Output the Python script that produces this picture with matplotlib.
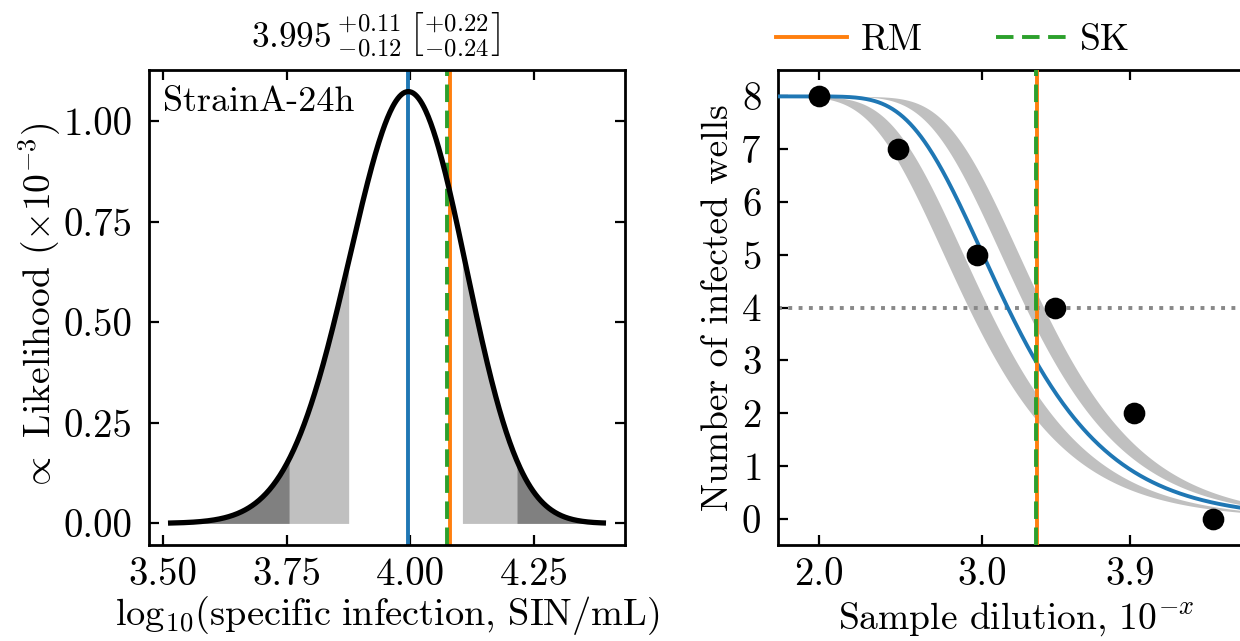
import numpy as np
import matplotlib
matplotlib.use("Agg")
import matplotlib.pyplot as plt
from math import comb

plt.rcParams.update({
    "font.family": "serif",
    "font.serif": ["cmr10"],
    "mathtext.fontset": "cm",
    "axes.formatter.use_mathtext": True,
    "axes.unicode_minus": False,
    "font.size": 13,
    "xtick.labelsize": 14,
    "ytick.labelsize": 14,
    "axes.linewidth": 1.0,
    "xtick.direction": "in",
    "ytick.direction": "in",
    "xtick.top": True,
    "ytick.right": True,
    "xtick.major.size": 3.5,
    "ytick.major.size": 3.5,
    "xtick.major.width": 0.8,
    "ytick.major.width": 0.8,
    "xtick.major.pad": 4.5,
    "ytick.major.pad": 6,
})

# Endpoint dilution assay: log10 dilution of each row and infected wells out of 8
dilution_log = np.array([2.0, 2.482, 2.964, 3.446, 3.928, 4.410])
infected_wells = np.array([8, 7, 5, 4, 2, 0])
wells_per_dilution = 8
well_volume_ml = 0.1

sample_name = "StrainA-24h"

# Maximum-likelihood estimate and its 68% / 95% intervals (log10 SIN/mL)
best_log_sin = 3.995
ci68 = (-0.12, 0.11)
ci95 = (-0.24, 0.22)

# Reed-Muench and Spearman-Karber estimates on each axis
rm_log_sin, sk_log_sin = 4.080, 4.074
rm_dilution, sk_dilution = 3.336, 3.330

likelihood_range = (3.515, 4.39)
left_xticks = [3.50, 3.75, 4.00, 4.25]
left_yticks = [0.00, 0.25, 0.50, 0.75, 1.00]
right_xticks = [2.0, 3.0, 3.9]
right_yticks = list(range(0, 9))

C_BLUE, C_ORANGE, C_GREEN = "#1f77b4", "#ff7f0e", "#2ca02c"
LIGHT, DARK = "#c0c0c0", "#808080"
DASH = (0, (4.5, 2.2))


def infected_fraction(log_sin, x):
    mean_units = 10.0 ** log_sin * well_volume_ml * 10.0 ** (-x)
    return 1.0 - np.exp(-mean_units)


def likelihood(log_sin):
    log_sin = np.atleast_1d(log_sin)[:, None]
    p = infected_fraction(log_sin, dilution_log[None, :])
    k = infected_wells[None, :]
    n = wells_per_dilution
    coef = np.array([comb(n, int(v)) for v in infected_wells])[None, :]
    terms = coef * p ** k * (1.0 - p) ** (n - k)
    return np.prod(terms, axis=1)


fig = plt.figure(figsize=(6.2, 3.205), dpi=200)
ax1 = fig.add_axes([149 / 1240, 96 / 641, 476 / 1240, 475 / 641])
ax2 = fig.add_axes([778 / 1240, 96 / 641, 476 / 1240, 475 / 641])

# ---- likelihood panel ----
grid = np.linspace(*likelihood_range, 500)
lik = likelihood(grid) * 1e3

lo95, lo68 = best_log_sin + ci95[0], best_log_sin + ci68[0]
hi68, hi95 = best_log_sin + ci68[1], best_log_sin + ci95[1]
segments = [
    (likelihood_range[0], lo95, DARK),
    (lo95, lo68, LIGHT),
    (hi68, hi95, LIGHT),
    (hi95, likelihood_range[1], DARK),
]
for a, b, col in segments:
    xs = np.linspace(a, b, 200)
    ax1.fill_between(xs, 0, likelihood(xs) * 1e3, color=col, lw=0, zorder=1)

ax1.axvline(best_log_sin, color=C_BLUE, lw=1.4, zorder=2)
ax1.axvline(rm_log_sin, color=C_ORANGE, lw=1.4, zorder=2)
ax1.axvline(sk_log_sin, color=C_GREEN, lw=1.4, ls=DASH, zorder=2)
ax1.plot(grid, lik, color="black", lw=1.9, zorder=3)

ax1.set_xticks(left_xticks)
ax1.set_xticklabels([f"{v:.2f}" for v in left_xticks])
ax1.set_yticks(left_yticks)
ax1.set_yticklabels([f"{v:.2f}" for v in left_yticks])
ax1.set_xlabel(r"$\mathrm{log}_{10}(\mathrm{specific\ infection,\,SIN/mL})$",
               fontsize=13.8, va="center")
ax1.xaxis.set_label_coords(0.5, -0.148)
ax1.set_ylabel(r"$\propto$ Likelihood $(\times10^{-3})$", fontsize=13.5, va="center")
ax1.yaxis.set_label_coords(-0.229, 0.5)
ax1.text(0.03, 0.965, sample_name, transform=ax1.transAxes, ha="left", va="top",
         fontsize=13)
title = (r"$%.3f\,^{+%.2f}_{-%.2f}\,\left[{}^{+%.2f}_{-%.2f}\right]$"
         % (best_log_sin, ci68[1], -ci68[0], ci95[1], -ci95[0]))
ax1.set_title(title, pad=8, fontsize=12.7, x=0.475)

# ---- dilution panel ----
xlim = (1.75, 4.66)
xs = np.linspace(*xlim, 400)
n = wells_per_dilution
ax2.fill_between(xs, n * infected_fraction(lo95, xs), n * infected_fraction(lo68, xs),
                 color=LIGHT, lw=0, zorder=1)
ax2.fill_between(xs, n * infected_fraction(hi68, xs), n * infected_fraction(hi95, xs),
                 color=LIGHT, lw=0, zorder=1)
ax2.axhline(n / 2, color="#888888", lw=1.4, ls=":", zorder=2)
ax2.plot(xs, n * infected_fraction(best_log_sin, xs), color=C_BLUE, lw=1.4, zorder=3)
ax2.axvline(rm_dilution, color=C_ORANGE, lw=1.4, zorder=4, label="RM")
ax2.axvline(sk_dilution, color=C_GREEN, lw=1.4, ls=DASH, zorder=4, label="SK")
ax2.plot(dilution_log, infected_wells, "o", color="black", ms=6.8, zorder=5)

ax2.set_xlim(*xlim)
ax2.set_ylim(-0.5, 8.5)
ax2.set_xticks(right_xticks)
ax2.set_xticklabels([f"{v:.1f}" for v in right_xticks])
ax2.set_yticks(right_yticks)
ax2.set_xlabel(r"Sample dilution, $10^{-x}$", fontsize=13.5, va="center")
ax2.xaxis.set_label_coords(0.5, -0.156)
ax2.set_ylabel("Number of infected wells", fontsize=13.5, va="center")
ax2.yaxis.set_label_coords(-0.126, 0.5)
ax2.legend(loc="center left", bbox_to_anchor=(-0.004, 1.063), ncol=2, frameon=False,
           borderpad=0, borderaxespad=0, handlelength=1.9, handletextpad=0.35,
           columnspacing=1.95, fontsize=13.5)

fig.savefig("out.png", dpi=200)
